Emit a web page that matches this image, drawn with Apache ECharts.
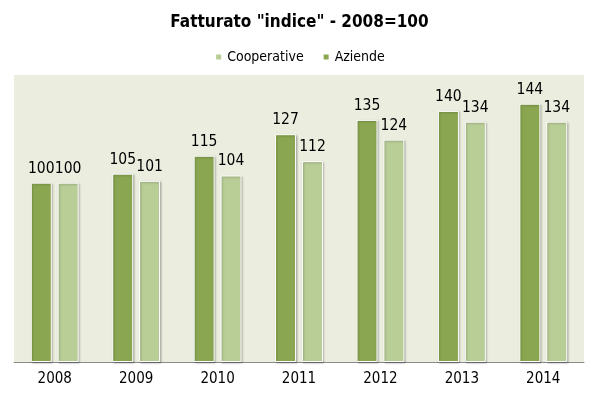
<!DOCTYPE html>
<html>
<head>
<meta charset="utf-8">
<script src="https://cdn.jsdelivr.net/npm/echarts@6/dist/echarts.min.js"></script>
<style>
  html, body { margin: 0; padding: 0; background: #fff; }
  #chart { width: 599px; height: 399px; }
</style>
</head>
<body>
<div id="chart"></div>
<script>
const years = ['2008', '2009', '2010', '2011', '2012', '2013', '2014']
const aziende = [100, 105, 115, 127, 135, 140, 144]
const cooperative = [100, 101, 104, 112, 124, 134, 134]

const font = '"DejaVu Sans Condensed", "Liberation Sans Narrow", "Liberation Sans", sans-serif'

const chart = echarts.init(document.getElementById('chart'))

const barStyle = (color) => ({
  color: color,
  borderColor: '#ffffff',
  borderWidth: 1,
  shadowColor: 'rgba(0, 0, 0, 0.25)',
  shadowBlur: 2,
  shadowOffsetX: 1,
  shadowOffsetY: 1
})

const label = {
  show: true,
  position: 'top',
  distance: 6,
  color: '#000',
  fontSize: 15.5,
  fontFamily: font
}

chart.setOption({
  animation: false,
  title: {
    text: 'Fatturato "indice" - 2008=100',
    left: 'center',
    top: 9,
    textStyle: { fontFamily: font, fontWeight: 'bold', fontSize: 17, color: '#000' }
  },
  legend: {
    data: ['Cooperative', 'Aziende'],
    top: 45,
    left: 'center',
    itemWidth: 7,
    itemHeight: 7,
    itemGap: 18,
    icon: 'rect',
    textStyle: { fontFamily: font, fontSize: 14, color: '#000' }
  },
  grid: {
    left: 14,
    right: 15,
    top: 75,
    bottom: 37,
    show: true,
    backgroundColor: '#ebeedf',
    borderWidth: 0
  },
  xAxis: {
    type: 'category',
    data: years,
    axisTick: { show: false },
    axisLine: { lineStyle: { color: '#8c8c8c', width: 1 } },
    axisLabel: { color: '#000', fontSize: 15, fontFamily: font, margin: 10 }
  },
  yAxis: {
    type: 'value',
    min: 0,
    max: 160,
    show: false,
    splitLine: { show: false }
  },
  series: [
    {
      name: 'Aziende',
      type: 'bar',
      data: aziende,
      barWidth: 21,
      barGap: '28%',
      itemStyle: barStyle('#8aa650'),
      label: label
    },
    {
      name: 'Cooperative',
      type: 'bar',
      data: cooperative,
      barWidth: 21,
      itemStyle: barStyle('#b9cd97'),
      label: label
    }
  ]
})
</script>
</body>
</html>
